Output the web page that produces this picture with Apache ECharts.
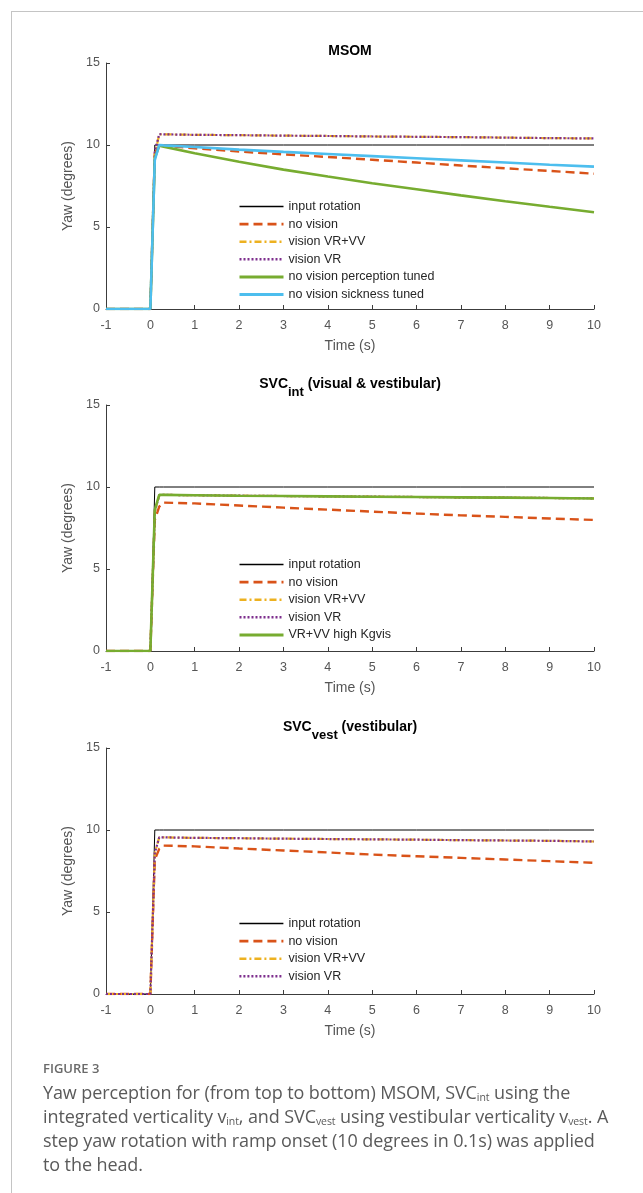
<!DOCTYPE html>
<html>
<head>
<meta charset="utf-8">
<script src="https://cdn.jsdelivr.net/npm/echarts@6/dist/echarts.min.js"></script>
<style>
  body { margin: 0; background: #fff; }
  .wrap { position: relative; width: 643px; height: 1193px; overflow: hidden; }
  #main { position: absolute; left: 0; top: 0; width: 643px; height: 1193px; }
  .frame { position: absolute; left: 11px; top: 11px; width: 700px; height: 1200px;
    border-left: 1px solid #c4c4c4; border-top: 1px solid #c4c4c4; }
  .caption { position: absolute; left: 43px; top: 1059px; width: 600px; font-family: "Open Sans", sans-serif;
    color: #5a5a5a; white-space: nowrap; }
  .caption .fig { font-size: 13px; font-weight: 600; color: #6a6a6a; line-height: 18px; margin-bottom: 3px; }
  .caption .txt { font-size: 18px; line-height: 24px; letter-spacing: -0.1px; }
  .caption sub { font-size: 10.5px; vertical-align: -2px; line-height: 0; }
</style>
</head>
<body>
<div class="wrap">
  <div class="frame"></div>
  <div id="main"></div>
  <div class="caption">
    <div class="fig">FIGURE 3</div>
    <div class="txt">Yaw perception for (from top to bottom) MSOM, SVC<sub>int</sub> using the<br>integrated verticality v<sub>int</sub>, and SVC<sub>vest</sub> using vestibular verticality v<sub>vest</sub>. A<br>step yaw rotation with ramp onset (10 degrees in 0.1s) was applied<br>to the head.</div>
  </div>
</div>
<script>
// sample times (s), shared by every panel
const times = [-1, 0, 0.1, 0.2, 0.3, 1, 2, 3, 4, 5, 6, 7, 8, 9, 10];

// input (same in all panels)
const inputRotation = [0, 0, 10, 10, 10, 10, 10, 10, 10, 10, 10, 10, 10, 10, 10];

// MSOM
const msomNoVision = [0, 0, 9.5, 9.95, 9.95, 9.8, 9.6, 9.43, 9.27, 9.1, 8.93, 8.75, 8.58, 8.42, 8.25];
const msomVrVv = [0, 0, 9.4, 10.65, 10.65, 10.62, 10.6, 10.57, 10.55, 10.52, 10.5, 10.48, 10.45, 10.42, 10.4];
const msomVr = [0, 0, 9.6, 10.66, 10.65, 10.62, 10.6, 10.57, 10.55, 10.52, 10.5, 10.48, 10.45, 10.42, 10.4];
const msomPerception = [0, 0, 9.2, 9.95, 9.9, 9.5, 8.98, 8.5, 8.08, 7.67, 7.3, 6.93, 6.57, 6.23, 5.9];
const msomSickness = [0, 0, 9.1, 10.0, 9.98, 9.88, 9.72, 9.58, 9.45, 9.32, 9.19, 9.06, 8.93, 8.8, 8.68];

// SVC int
const intNoVision = [0, 0, 8.0, 8.8, 9.05, 9.0, 8.87, 8.74, 8.62, 8.5, 8.38, 8.27, 8.18, 8.08, 7.99];
const intVrVv = [0, 0, 8.5, 9.5, 9.52, 9.5, 9.47, 9.45, 9.43, 9.41, 9.39, 9.37, 9.35, 9.33, 9.31];
const intVr = [0, 0, 8.5, 9.5, 9.52, 9.5, 9.47, 9.45, 9.43, 9.41, 9.39, 9.37, 9.35, 9.33, 9.31];
const intHighKgvis = [0, 0, 8.6, 9.52, 9.52, 9.5, 9.47, 9.45, 9.43, 9.41, 9.39, 9.37, 9.35, 9.33, 9.3];

// SVC vest
const vestNoVision = [0, 0, 8.2, 8.85, 9.05, 9.0, 8.87, 8.75, 8.63, 8.5, 8.4, 8.3, 8.2, 8.1, 8.0];
const vestVrVv = [0, 0, 8.6, 9.55, 9.55, 9.52, 9.5, 9.47, 9.45, 9.43, 9.41, 9.38, 9.36, 9.34, 9.3];
const vestVr = [0, 0, 8.6, 9.55, 9.55, 9.52, 9.5, 9.47, 9.45, 9.43, 9.41, 9.38, 9.36, 9.34, 9.3];

const yTicks = [0, 5, 10, 15];

const styles = {
  'input rotation': { color: '#000000', width: 1, type: 'solid' },
  'no vision': { color: '#D95319', width: 2.4, type: [9, 5] },
  'vision VR+VV': { color: '#EDB120', width: 2.2, type: [7, 3, 2, 3] },
  'vision VR': { color: '#7E2F8E', width: 2.2, type: [2, 2] },
  'no vision perception tuned': { color: '#77AC30', width: 2.6, type: 'solid' },
  'no vision sickness tuned': { color: '#4DBEEE', width: 2.6, type: 'solid' },
  'VR+VV high Kgvis': { color: '#77AC30', width: 2.6, type: 'solid' },
};

const panels = [
  { top: 63, legendTop: 200, titleTop: 44,
    title: '{a|MSOM}',
    lines: [['input rotation', inputRotation], ['no vision', msomNoVision], ['vision VR+VV', msomVrVv],
      ['vision VR', msomVr], ['no vision perception tuned', msomPerception], ['no vision sickness tuned', msomSickness]] },
  { top: 405, legendTop: 558, titleTop: 377,
    title: '{a|SVC}{b|int}{a| (visual & vestibular)}',
    lines: [['input rotation', inputRotation], ['no vision', intNoVision], ['vision VR+VV', intVrVv],
      ['vision VR', intVr], ['VR+VV high Kgvis', intHighKgvis]] },
  { top: 748, legendTop: 917, titleTop: 720,
    title: '{a|SVC}{b|vest}{a| (vestibular)}',
    lines: [['input rotation', inputRotation], ['no vision', vestNoVision], ['vision VR+VV', vestVrVv],
      ['vision VR', vestVr]] },
];

const axisColor = '#3c3c3c';
const labelColor = '#555555';
const font = '"Liberation Sans", Arial, sans-serif';

const grid = [], xAxis = [], yAxis = [], series = [], legend = [], title = [];
panels.forEach((p, i) => {
  grid.push({ left: 106, right: 49, top: p.top, height: 246 });
  title.push({
    text: p.title, left: 350, top: p.titleTop, textAlign: 'center', padding: 0,
    textStyle: {
      rich: {
        a: { fontFamily: font, fontSize: 14, fontWeight: 'bold', color: '#000', lineHeight: 16, verticalAlign: 'top' },
        b: { fontFamily: font, fontSize: 13, fontWeight: 'bold', color: '#000', lineHeight: 16,
          verticalAlign: 'top', padding: [9, 0, 0, 0] },
      },
    },
  });
  xAxis.push({
    type: 'value', gridIndex: i, min: -1, max: 10, interval: 1,
    name: 'Time (s)', nameLocation: 'middle', nameGap: 30,
    nameTextStyle: { fontFamily: font, fontSize: 14, color: labelColor },
    axisLine: { onZero: false, lineStyle: { color: axisColor, width: 1 } },
    axisTick: { inside: true, length: 4, lineStyle: { color: axisColor } },
    axisLabel: { fontFamily: font, fontSize: 12.5, color: labelColor, margin: 10 },
    splitLine: { show: false },
  });
  yAxis.push({
    type: 'value', gridIndex: i, min: yTicks[0], max: yTicks[yTicks.length - 1], interval: 5,
    name: 'Yaw (degrees)', nameLocation: 'middle', nameGap: 28,
    nameTextStyle: { fontFamily: font, fontSize: 14, color: labelColor },
    axisLine: { show: true, onZero: false, lineStyle: { color: axisColor, width: 1 } },
    axisTick: { show: true, inside: true, length: 4, lineStyle: { color: axisColor } },
    axisLabel: { fontFamily: font, fontSize: 12.5, color: labelColor, margin: 6 },
    splitLine: { show: false },
  });
  p.lines.forEach(([name, ys]) => {
    const s = styles[name];
    series.push({
      type: 'line', name, xAxisIndex: i, yAxisIndex: i,
      data: times.map((t, k) => [t, ys[k]]),
      symbol: 'none', showSymbol: false, animation: false,
      color: s.color,
      lineStyle: { color: s.color, width: s.width, type: s.type },
    });
  });
  legend.push({
    data: p.lines.map(l => ({
      name: l[0],
      lineStyle: { width: styles[l[0]].width + 0.4 },
    })),
    orient: 'vertical', left: 238, top: p.legendTop, padding: 0,
    itemWidth: 44, itemHeight: 12, itemGap: 4.6, selectedMode: false,
    itemStyle: { opacity: 0 },
    textStyle: { fontFamily: font, fontSize: 12.5, color: '#262626', lineHeight: 12 },
  });
});

const myChart = echarts.init(document.getElementById('main'));
myChart.setOption({ animation: false, title, grid, xAxis, yAxis, legend, series });
</script>
</body>
</html>
